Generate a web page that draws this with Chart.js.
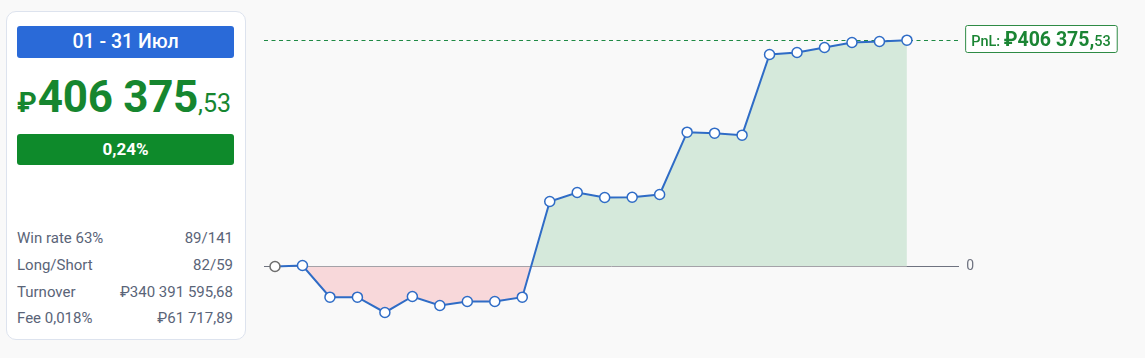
<!DOCTYPE html>
<html lang="ru">
<head>
<meta charset="utf-8">
<title>PnL Июль</title>
<script src="https://cdn.jsdelivr.net/npm/chart.js@4/dist/chart.umd.min.js"></script>
<style>
  body { margin: 0; background: #f9f9f9; font-family: Roboto, 'Noto Sans', sans-serif; }
  .card {
    position: absolute; left: 6px; top: 11px; width: 240px; height: 329px;
    background: #fff; border: 1px solid #dde3ee; border-radius: 10px; box-sizing: border-box;
  }
  .period {
    position: absolute; left: 10px; top: 14px; width: 217px; height: 32px;
    background: #2a6ad8; color: #fff; border-radius: 3px;
    font-size: 19.5px; font-weight: 500; text-align: center; line-height: 32px;
  }
  .total {
    position: absolute; left: 10px; top: 59px; color: #16862f; white-space: nowrap;
    font-weight: 700;
  }
  .total .cur { font-size: 28px; margin-right: 1px; }
  .total .int { font-size: 44px; letter-spacing: -0.3px; }
  .total .frac { font-size: 25px; font-weight: 400; }
  .pct {
    position: absolute; left: 10px; top: 122px; width: 217px; height: 31px;
    background: #0e8a2b; color: #fff; border-radius: 3px;
    font-size: 17px; font-weight: 700; text-align: center; line-height: 31px;
  }
  .stats { position: absolute; left: 10px; top: 216px; width: 216px; font-size: 15px; color: #5a6478; }
  .stats div { display: flex; justify-content: space-between; height: 26.8px; line-height: 20px; }
  .chart-box { position: absolute; left: 250px; top: 0; width: 895px; height: 358px; }
</style>
</head>
<body>
<div class="card">
  <div class="period" id="period"></div>
  <div class="total" id="total"></div>
  <div class="pct" id="pct"></div>
  <div class="stats" id="stats"></div>
</div>
<div class="chart-box"><canvas id="pnl-chart"></canvas></div>
<script>
const periodLabel = '01 - 31 Июл';
const totalPnl = '406 375';
const totalFrac = '53';
const pnlPercent = '0,24%';
const statNames = ['Win rate 63%', 'Long/Short', 'Turnover', 'Fee 0,018%'];
const statValues = ['89/141', '82/59', '₽340 391 595,68', '₽61 717,89'];

// start point + trading days of July
const days = ['старт', '01.07', '02.07', '03.07', '04.07', '05.07', '08.07', '09.07', '10.07', '11.07', '12.07',
  '15.07', '16.07', '17.07', '18.07', '19.07', '22.07', '23.07', '24.07', '25.07', '26.07', '29.07', '30.07', '31.07'];
const pnl = [0, 1800, -55100, -55100, -82600, -53900, -70000, -62800, -62800, -55100, 116700, 132900,
  123900, 124400, 129300, 241200, 239400, 235800, 380700, 384300, 393300, 402200, 404000, 406375.53];

const yMin = -132900;
const yMax = 441700;

function initSummary() {
  document.getElementById('period').textContent = periodLabel;
  document.getElementById('total').innerHTML =
    '<span class="cur">₽</span><span class="int">' + totalPnl + '</span><span class="frac">,' + totalFrac + '</span>';
  document.getElementById('pct').textContent = pnlPercent;
  document.getElementById('stats').innerHTML = statNames
    .map((n, i) => '<div><span>' + n + '</span><span>' + statValues[i] + '</span></div>')
    .join('');
}

// dashed level line + PnL tag at the last value
const pnlTag = {
  id: 'pnlTag',
  beforeDatasetsDraw(chart) {
    const { ctx, chartArea, scales } = chart;
    const y = Math.round(scales.y.getPixelForValue(pnl[pnl.length - 1])) + 0.5;
    ctx.save();
    ctx.strokeStyle = '#1f8a45';
    ctx.lineWidth = 1;
    ctx.setLineDash([4, 3.5]);
    ctx.beginPath();
    ctx.moveTo(chartArea.left, y);
    ctx.lineTo(chartArea.right, y);
    ctx.stroke();
    ctx.restore();
  },
  afterDraw(chart) {
    const { ctx, chartArea, scales } = chart;
    const y = scales.y.getPixelForValue(pnl[pnl.length - 1]);
    const parts = [
      { t: 'PnL: ', f: '500 14.5px Roboto' },
      { t: '₽' + totalPnl + ',', f: '700 19.5px Roboto' },
      { t: totalFrac, f: '500 14.5px Roboto' }
    ];
    ctx.save();
    let w = 0;
    parts.forEach(p => { ctx.font = p.f; p.w = ctx.measureText(p.t).width; w += p.w; });
    const x0 = chartArea.right + 6;
    const padX = 6;
    ctx.fillStyle = '#ffffff';
    ctx.strokeStyle = '#2e8b45';
    ctx.lineWidth = 1;
    ctx.beginPath();
    ctx.roundRect(x0 + 0.5, Math.round(y - 15) + 0.5, w + padX * 2, 27, 2);
    ctx.fill();
    ctx.stroke();
    ctx.fillStyle = '#1b8534';
    ctx.textBaseline = 'alphabetic';
    let x = x0 + padX;
    parts.forEach(p => { ctx.font = p.f; ctx.fillText(p.t, x, y + 6); x += p.w; });
    ctx.restore();
  }
};

function initChart() {
  new Chart(document.getElementById('pnl-chart').getContext('2d'), {
    type: 'line',
    data: {
      labels: days,
      datasets: [{
        data: pnl.map((v, i) => ({ x: i, y: v })),
        borderColor: '#2f6cc6',
        borderWidth: 2,
        pointRadius: 5,
        pointBorderWidth: 1.5,
        pointBackgroundColor: '#ffffff',
        pointBorderColor: pnl.map((v, i) => (i === 0 ? '#6e6e6e' : '#2f6cc6')),
        tension: 0,
        clip: false,
        fill: { target: 'origin', above: '#d5e9db', below: '#f8d8da' }
      }]
    },
    options: {
      responsive: true,
      maintainAspectRatio: false,
      animation: false,
      layout: { padding: { left: 14, right: 164, top: 20.5, bottom: 17.5 } },
      plugins: { legend: { display: false }, tooltip: { enabled: false } },
      scales: {
        x: { type: 'linear', min: -0.4, max: 24.9, display: false },
        y: {
          position: 'right',
          min: yMin,
          max: yMax,
          afterBuildTicks: axis => { axis.ticks = [{ value: 0 }]; },
          border: { display: false },
          grid: { color: '#6f7380', lineWidth: 1, drawTicks: false },
          ticks: { padding: 7, color: '#6f7380', font: { family: 'Roboto', size: 14 }, callback: v => String(v) }
        }
      }
    },
    plugins: [pnlTag]
  });
}

initSummary();
initChart();
</script>
</body>
</html>
